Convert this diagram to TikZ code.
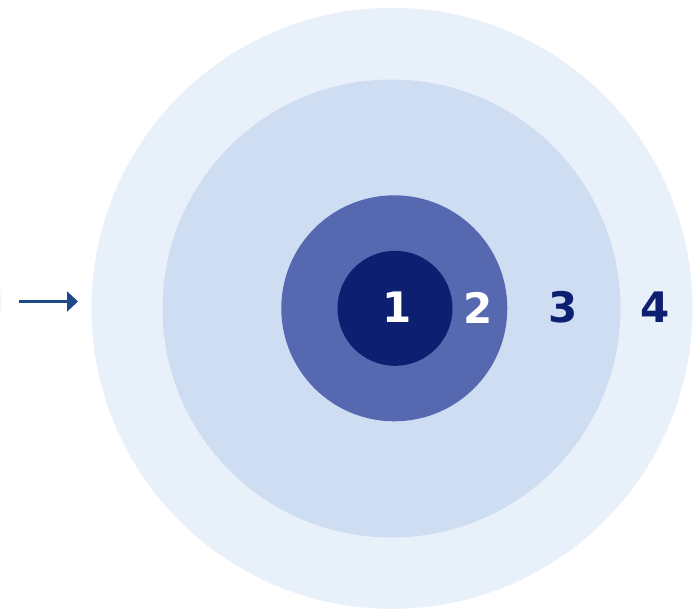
\documentclass[tikz,border=0pt]{standalone}
\usepackage{fontspec}
\setmainfont{DejaVu Sans}
\usetikzlibrary{arrows.meta}
\definecolor{ringA}{HTML}{E8F0FA}
\definecolor{ringB}{HTML}{CFDDF2}
\definecolor{ringC}{HTML}{5568B0}
\definecolor{ringD}{HTML}{0C1F70}
\definecolor{arrowcol}{HTML}{1F4A8A}
\definecolor{faint}{HTML}{F3F6FB}
\tikzset{
  ring/.style={circle, inner sep=0pt, draw=none},
  digit/.style={font=\fontsize{42}{42}\selectfont\bfseries, inner sep=0pt, anchor=center},
  pointer/.style={draw=arrowcol, line width=2.5pt, -{Triangle[length=11pt,width=20pt]}}
}
\begin{document}
\begin{tikzpicture}[x=1pt,y=-1pt]
\useasboundingbox (0,0) rectangle (699,611);
\fill[white] (0,0) rectangle (699,611);
\begin{scope}
\clip (0,0) rectangle (699,611);
\node[ring, fill=faint, minimum size=90pt] (sliver) at (-43,302) {};
\end{scope}
\node[ring, fill=ringA, minimum size=601pt] (outer) at (392,308.3) {};
\node[ring, fill=ringB, minimum size=458pt] (second) at (391.5,308.5) {};
\node[ring, fill=ringC, minimum size=226pt] (third) at (394.3,308.3) {};
\node[ring, fill=ringD, minimum size=115pt] (inner) at (395,308.3) {};
\node[digit, text=white] (d1) at (397,307.5) {1};
\node[digit, text=white] (d2) at (478.5,307.5) {2};
\node[digit, text=ringD] (d3) at (563.5,307.5) {3};
\node[digit, text=ringD] (d4) at (655.5,307.5) {4};
\coordinate (astart) at (19,301.5);
\coordinate (aend) at (78,301.5);
\draw[pointer] (astart) -- (aend);
\end{tikzpicture}
\end{document}
